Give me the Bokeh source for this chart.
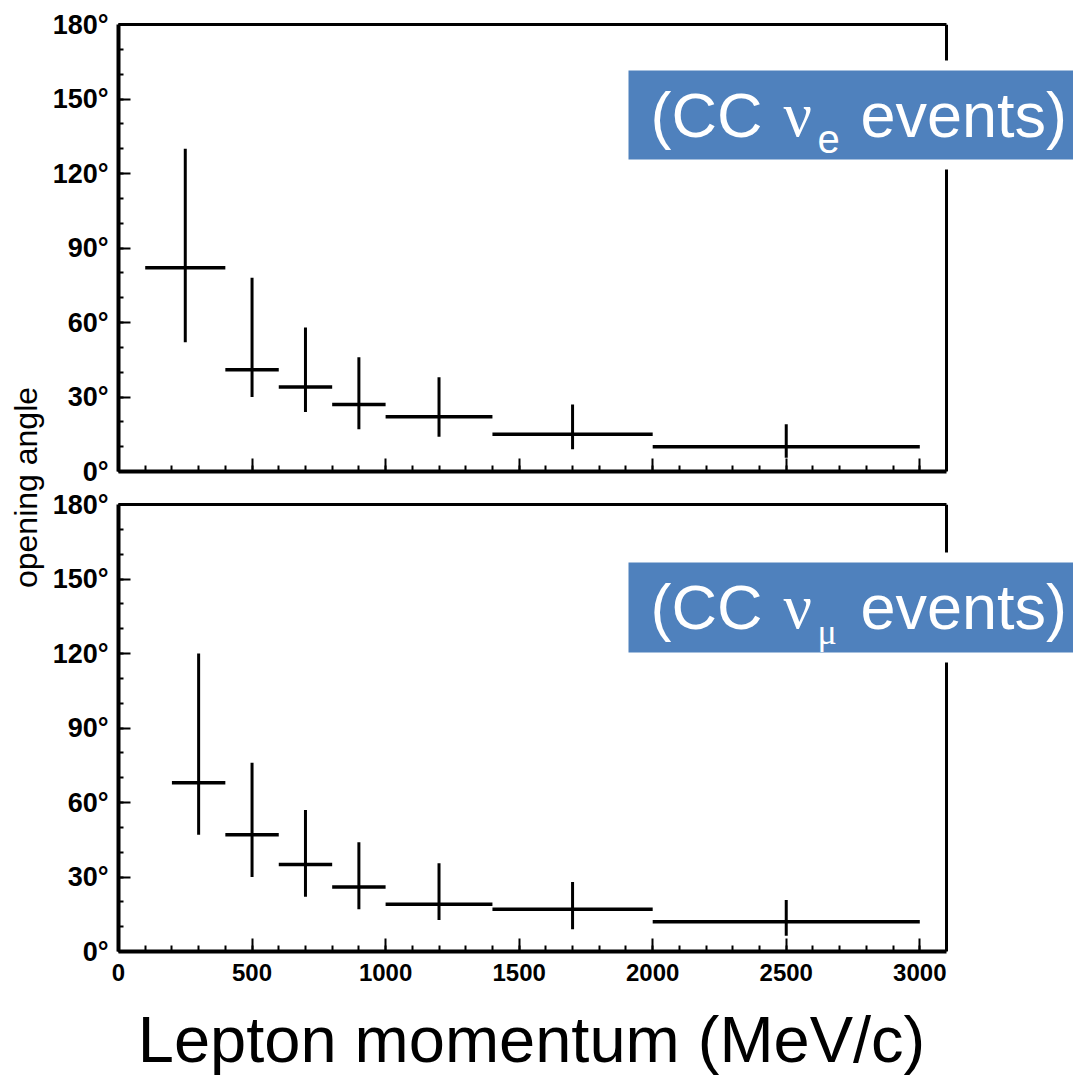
import math
from bokeh.plotting import figure
from bokeh.models import (Range1d, SingleIntervalTicker, LinearAxis, FixedTicker,
                          BoxAnnotation, Label, ColumnDataSource, Span)
from bokeh.layouts import row, column
from bokeh.embed import file_html
from bokeh.resources import INLINE

# ---------------- data ----------------
# CC nu_e events (top panel)
nue_lo = [100, 400, 600, 800, 1000, 1400, 2000]
nue_hi = [400, 600, 800, 1000, 1400, 2000, 3000]
nue_x = [250, 500, 700, 900, 1200, 1700, 2500]
nue_val = [82, 41, 34, 27, 22, 15, 10]
nue_err_lo = [52, 30, 24, 17, 14, 9, 5.5]
nue_err_hi = [130, 78, 58, 46, 38, 27, 19]

# CC nu_mu events (bottom panel)
numu_lo = [200, 400, 600, 800, 1000, 1400, 2000]
numu_hi = [400, 600, 800, 1000, 1400, 2000, 3000]
numu_x = [300, 500, 700, 900, 1200, 1700, 2500]
numu_val = [68, 47, 35, 26, 19, 17, 12]
numu_err_lo = [47, 30, 22, 17, 12.7, 9, 6.3]
numu_err_hi = [120, 76, 57, 44, 35.5, 28, 20.7]

y_ticks = [0, 30, 60, 90, 120, 150, 180]
y_tick_labels = ["0°", "30°", "60°", "90°", "120°", "150°", "180°"]
x_ticks = [0, 500, 1000, 1500, 2000, 2500, 3000]

x_label = "Lepton momentum (MeV/c)"
y_label = "opening angle"

# ---------------- layout constants ----------------
LAB_W = 45
MAIN_W = 1073 - LAB_W
LEFT = 73
AXIS_W = 828            # pixels covered by the 0..3100 axis
X_AXIS_MAX = 3100
FRAME_W = MAIN_W - LEFT  # frame runs to the right edge so the label box can overflow
X_RANGE_MAX = X_AXIS_MAX * FRAME_W / AXIS_W
FRAME_H = 447
FRAME_LEFT_PX = LAB_W + LEFT
SANS = "Liberation Sans"
SERIF = "Liberation Serif"
BLUE = "#4F81BD"
BASE_SHIFT = 0.35       # empirical correction of Bokeh's alphabetic baseline


def px2x(px):
    return (px - FRAME_LEFT_PX) * X_AXIS_MAX / AXIS_W


def px2y(py, fb):
    return (fb - py) * 180.0 / FRAME_H


def make_panel(lo, hi, xc, val, elo, ehi, top_b, bot_b, show_labels,
               frame_bottom_px, box_top, box_bot, baseline, sub_text,
               sub_font, sub_size, sub_baseline):
    p = figure(width=MAIN_W, height=top_b + FRAME_H + bot_b,
               x_range=Range1d(0, X_RANGE_MAX), y_range=Range1d(0, 180),
               output_backend="svg", toolbar_location=None,
               min_border_left=LEFT, min_border_right=0,
               min_border_top=top_b, min_border_bottom=bot_b,
               outline_line_color=None,
               background_fill_color="white", border_fill_color="white")
    p.xgrid.grid_line_color = None
    p.ygrid.grid_line_color = None

    xa = p.xaxis[0]
    xa.bounds = (0, X_AXIS_MAX)
    xa.ticker = SingleIntervalTicker(interval=500, num_minor_ticks=5)
    xa.axis_line_width = 4
    xa.major_tick_in = 13
    xa.major_tick_out = 0
    xa.minor_tick_in = 6
    xa.minor_tick_out = 0
    xa.major_tick_line_width = 2
    xa.minor_tick_line_width = 2
    xa.major_label_text_font = SANS
    xa.major_label_text_font_style = "bold"
    xa.major_label_text_color = "black"
    if show_labels:
        xa.major_label_text_font_size = "24px"
        xa.major_label_standoff = 12
    else:
        xa.major_label_overrides = {t: "" for t in x_ticks}
        xa.major_label_text_font_size = "1px"
        xa.major_label_standoff = 0

    ya = p.yaxis[0]
    ya.ticker = SingleIntervalTicker(interval=30, num_minor_ticks=3)
    ya.major_label_overrides = {t: l for t, l in zip(y_ticks, y_tick_labels)}
    ya.axis_line_width = 4
    ya.major_tick_in = 12
    ya.major_tick_out = 0
    ya.minor_tick_in = 5
    ya.minor_tick_out = 0
    ya.major_tick_line_width = 2
    ya.minor_tick_line_width = 2
    ya.major_label_text_font = SANS
    ya.major_label_text_font_style = "bold"
    ya.major_label_text_font_size = "27px"
    ya.major_label_text_color = "black"
    ya.major_label_standoff = 10

    top_ax = LinearAxis(ticker=FixedTicker(ticks=[]), axis_line_width=3,
                        bounds=(0, X_AXIS_MAX),
                        major_tick_in=0, major_tick_out=0,
                        minor_tick_in=0, minor_tick_out=0,
                        major_label_standoff=0,
                        major_label_text_font_size="1px")
    p.add_layout(top_ax, "above")

    src = ColumnDataSource(dict(lo=lo, hi=hi, x=xc, val=val, elo=elo, ehi=ehi))
    p.segment(x0="lo", y0="val", x1="hi", y1="val", source=src,
              line_width=3.5, line_color="black")
    p.segment(x0="x", y0="elo", x1="x", y1="ehi", source=src,
              line_width=3, line_color="black")

    # right frame line at the end of the axis
    p.add_layout(Span(location=X_AXIS_MAX, dimension="height",
                      line_color="black", line_width=3))

    fb = frame_bottom_px
    p.add_layout(BoxAnnotation(left=px2x(618), right=X_RANGE_MAX,
                               top=px2y(box_top - 10, fb), bottom=px2y(box_bot + 10, fb),
                               fill_color="white", fill_alpha=1, line_color=None))
    p.add_layout(BoxAnnotation(left=px2x(628), right=X_RANGE_MAX,
                               top=px2y(box_top, fb), bottom=px2y(box_bot, fb),
                               fill_color=BLUE, fill_alpha=1, line_color=None))

    def lab(xpx, ypx, text, font, size):
        p.add_layout(Label(x=px2x(xpx), y=px2y(ypx - BASE_SHIFT * size, fb), text=text,
                           text_font=font, text_font_size=f"{size}px",
                           text_color="white", text_align="left",
                           text_baseline="alphabetic"))

    lab(650, baseline, "(CC", SANS, 63)
    lab(783, baseline, "ν", SERIF, 63)
    lab(817, sub_baseline, sub_text, sub_font, sub_size)
    lab(860, baseline, "events)", SANS, 63)
    return p


TOP_H = 24 + FRAME_H + 16
BOT_B = 45
BOT_H = 17 + FRAME_H + BOT_B
XLAB_H = 1075 - TOP_H - BOT_H

top = make_panel(nue_lo, nue_hi, nue_x, nue_val, nue_err_lo, nue_err_hi,
                 24, 16, False, 471, 70, 159, 137, "e", SANS, 40, 152)
bot = make_panel(numu_lo, numu_hi, numu_x, numu_val, numu_err_lo, numu_err_hi,
                 17, BOT_B, True, 951, 562, 652, 629, "μ", SERIF, 36, 644)

# x-axis title strip under the lower panel (frame aligned with the panels)
xf = figure(width=MAIN_W, height=XLAB_H, x_range=Range1d(0, FRAME_W),
            y_range=Range1d(0, XLAB_H), output_backend="svg",
            toolbar_location=None, min_border=0, min_border_left=LEFT,
            min_border_right=0, outline_line_color=None,
            x_axis_location=None, y_axis_location=None,
            background_fill_color="white", border_fill_color="white")
xf.xgrid.grid_line_color = None
xf.ygrid.grid_line_color = None
XF_TOP = TOP_H + BOT_H
xf.add_layout(Label(x=531 - FRAME_LEFT_PX, y=(XF_TOP + XLAB_H) - 1062 + BASE_SHIFT * 65,
                    text=x_label, text_font=SANS, text_font_size="65px",
                    text_color="black", text_align="center",
                    text_baseline="alphabetic"))

lf = figure(width=LAB_W, height=1075, x_range=Range1d(0, LAB_W),
            y_range=Range1d(0, 1075), output_backend="svg",
            toolbar_location=None, min_border=0, outline_line_color=None,
            x_axis_location=None, y_axis_location=None,
            background_fill_color="white", border_fill_color="white")
lf.xgrid.grid_line_color = None
lf.ygrid.grid_line_color = None
lf.add_layout(Label(x=25, y=1075 - 487, text=y_label, angle=math.pi / 2,
                    text_font=SANS, text_font_size="32px", text_color="black",
                    text_align="center", text_baseline="middle"))

layout = row(lf, column(top, bot, xf))

open("out.html", "w").write(file_html(layout, INLINE))
